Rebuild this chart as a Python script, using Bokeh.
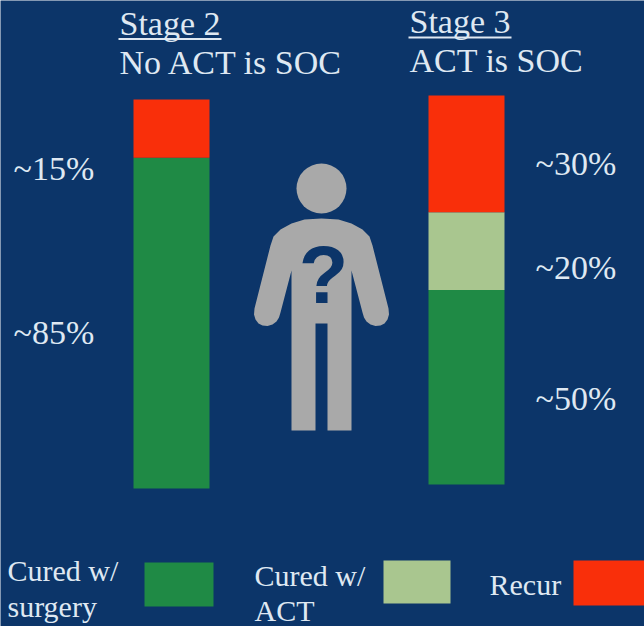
from bokeh.embed import file_html
from bokeh.resources import INLINE
from bokeh.models import Range1d
from bokeh.plotting import figure
from bokeh.core.properties import value

BG = "#0c3569"
GREEN = "#1f8a45"
LIGHT = "#a9c68f"
RED = "#f92f0a"
GREY = "#a9a9a9"
TEXT = "#dfe8f2"
SERIF = value("Liberation Serif")

# Outcome shares per stage, stacked from the bottom of each bar
stage2_surgery = 85
stage2_recur = 15
stage3_surgery = 50
stage3_act = 20
stage3_recur = 30

stage_titles = ["Stage 2", "Stage 3"]
stage_notes = ["No ACT is SOC", "ACT is SOC"]
stage2_labels = ["~15%", "~85%"]
stage3_labels = ["~30%", "~20%", "~50%"]
legend_names = [["Cured w/", "surgery"], ["Cured w/", "ACT"], ["Recur"]]

W, H = 644, 626
PX_PER_PCT = 3.89


def pct_range(base_px):
    """Percent scale whose zero lands on the given pixel row."""
    return Range1d(start=-(H - base_px) / PX_PER_PCT, end=base_px / PX_PER_PCT)


p = figure(width=W, height=H, x_range=(0, W), y_range=(H, 0),
           output_backend="svg", toolbar_location=None, min_border=0,
           background_fill_color=BG, border_fill_color=BG, outline_line_color=None)
p.axis.visible = False
p.grid.visible = False
p.extra_y_ranges = {"stage2": pct_range(488), "stage3": pct_range(484)}

# Stacked bars
p.quad(left=[133] * 2, right=[209] * 2,
       bottom=[0, stage2_surgery],
       top=[stage2_surgery, stage2_surgery + stage2_recur],
       fill_color=[GREEN, RED], line_color=None, y_range_name="stage2")
p.quad(left=[428] * 3, right=[504] * 3,
       bottom=[0, stage3_surgery, stage3_surgery + stage3_act],
       top=[stage3_surgery, stage3_surgery + stage3_act,
            stage3_surgery + stage3_act + stage3_recur],
       fill_color=[GREEN, LIGHT, RED], line_color=None, y_range_name="stage3")


def label(x, y, text, size, color=TEXT, font=SERIF, align="left", style="normal"):
    # y is the text's baseline row; the renderer sets it lower in proportion to size
    p.text(x=[x], y=[y - 0.34 * size], text=[text], text_font=font,
           text_font_size=f"{size}px", text_color=color, text_align=align,
           text_baseline="alphabetic", text_font_style=style)


# Column headings
label(119, 35, stage_titles[0], 34)
label(119, 74, stage_notes[0], 34)
label(409, 33, stage_titles[1], 34)
label(409, 72, stage_notes[1], 34)
p.segment(x0=[118, 408], y0=[38.5, 37], x1=[221, 511], y1=[38.5, 37],
          line_color=TEXT, line_width=2)

# Percentages beside the bars
for y, t in zip([180, 344], stage2_labels):
    label(13, y, t, 34)
for y, t in zip([175, 279, 410], stage3_labels):
    label(535, y, t, 34)

# Figure with a question mark, between the bars
body_x = [322, 305, 292, 281, 274, 271, 255, 254.5, 256, 259, 263, 268, 273, 277, 279.5, 281, 292, 292,
          316, 316, 328, 328, 352, 352, 363, 364.5, 367, 371, 376, 381, 385, 388, 389.5, 389, 373, 370, 363, 352, 339]
body_y = [218, 219, 223, 229, 236, 245, 308, 314, 319, 323, 325, 325.5, 324, 321, 317, 312, 270, 430,
          430, 323, 323, 430, 430, 270, 312, 317, 321, 324, 325.5, 325, 323, 319, 314, 308, 245, 236, 229, 223, 219]
p.patch([x - 1 for x in body_x], body_y, fill_color=GREY, line_color=None)
p.scatter(x=[321], y=[188], size=50, marker="circle", fill_color=GREY, line_color=None)
label(323, 302, "?", 81, color=BG, font=value("Liberation Sans"), align="center", style="bold")

# Key along the bottom
p.quad(left=[144, 383, 573], right=[213, 450, 644], top=[562, 560, 560], bottom=[606, 603, 605],
       fill_color=[GREEN, LIGHT, RED], line_color=None)
label(7, 580, legend_names[0][0], 30)
label(7, 616, legend_names[0][1], 30)
label(254, 585, legend_names[1][0], 30)
label(254, 620, legend_names[1][1], 30)
label(489, 594, legend_names[2][0], 30)

open("out.html", "w").write(file_html(p, INLINE))
